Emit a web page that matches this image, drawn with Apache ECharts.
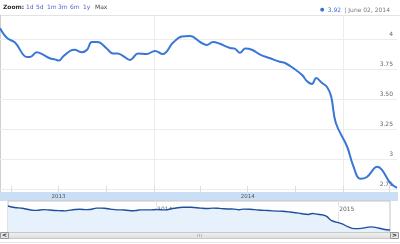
<!DOCTYPE html>
<html>
<head>
<meta charset="utf-8">
<script src="https://cdn.jsdelivr.net/npm/echarts@6/dist/echarts.min.js"></script>
<style>
html,body{margin:0;padding:0;background:#fff}
#chart{width:400px;height:244px}
</style>
</head>
<body>
<div id="chart"></div>
<script>
// dates / rates
var dates = ['2013-03-10','2013-03-23','2013-04-08','2013-05-01','2013-05-07','2013-05-20','2013-06-01',
	'2013-06-14','2013-06-24','2013-07-02','2013-07-09','2013-07-23','2013-08-01','2013-08-15','2013-08-25',
	'2013-09-03','2013-09-13','2013-09-19','2013-10-02','2013-10-14','2013-10-23','2013-11-02','2013-11-16',
	'2013-11-21','2013-12-01','2013-12-18','2014-01-03','2014-01-18','2014-02-07','2014-02-24','2014-03-12',
	'2014-03-31','2014-04-13','2014-04-25','2014-05-08','2014-05-28','2014-06-06','2014-06-16','2014-06-26',
	'2014-07-09','2014-07-25','2014-08-13','2014-09-01','2014-09-11','2014-09-26','2014-10-14','2014-10-23',
	'2014-11-02','2014-11-10','2014-11-21','2014-12-01','2014-12-09','2014-12-18','2015-01-09','2015-01-20',
	'2015-02-03','2015-02-16','2015-03-08','2015-03-17','2015-04-02','2015-04-15'];
var rates = [4.09,4.01,3.97,3.85,3.85,3.89,3.87,
	3.84,3.83,3.82,3.85,3.90,3.91,3.89,3.91,
	3.975,3.975,3.97,3.92,3.88,3.88,3.86,3.825,
	3.84,3.88,3.875,3.90,3.875,3.97,4.02,4.025,
	3.975,3.95,3.975,3.96,3.925,3.92,3.885,3.92,
	3.91,3.87,3.84,3.81,3.80,3.76,3.70,3.65,
	3.625,3.675,3.635,3.60,3.52,3.30,3.10,2.95,
	2.835,2.85,2.935,2.91,2.80,2.76];

var yTicks = [2.75, 3, 3.25, 3.5, 3.75, 4];
var yTickLabels = ['2.75', '3', '3.25', '3.50', '3.75', '4'];
var yearStarts = ['2014-01-01', '2015-01-01'];
var bandLabelDates = ['2013-07-01', '2014-07-01'];
var bandTickDates = ['2013-04-01', '2013-07-01', '2013-10-01', '2014-01-01', '2014-04-01', '2014-07-01', '2014-10-01', '2015-01-01', '2015-04-01'];
var zoomButtons = ['1d', '5d', '1m', '3m', '6m', '1y'];
var lastValue = '3.92';
var lastDate = 'June 02, 2014';

var font = 'DejaVu Sans';
var buttonX = [26, 36, 47, 58, 70, 83];
function ts(d) { return Date.parse(d + 'T00:00:00Z'); }
function yearOf(v) { return String(new Date(v).getUTCFullYear()); }
var seriesData = dates.map(function (d, i) { return [ts(d), rates[i]]; });
var xMin = ts(dates[0]), xMax = ts(dates[dates.length - 1]);

var graphics = [
	{ type: 'line', shape: { x1: 0, y1: 15.5, x2: 400, y2: 15.5 }, style: { stroke: '#e3e3e3', lineWidth: 1 } },
	{ type: 'line', shape: { x1: 0.5, y1: 15, x2: 0.5, y2: 192 }, style: { stroke: '#cfcfcf', lineWidth: 1 } },
	{ type: 'rect', z: -5, shape: { x: 0, y: 192, width: 398, height: 9 }, style: { fill: '#cadff5' } },
	{ type: 'text', left: 3, top: 4, style: { text: 'Zoom:', font: 'bold 6px "' + font + '"', fill: '#333' } },
	{ type: 'text', left: 95, top: 4, style: { text: 'Max', font: '6px "' + font + '"', fill: '#444' } },
	{ type: 'text', right: 10, top: 4, style: {
		text: '{d|●} {v|' + lastValue + '} {g|| ' + lastDate + '}',
		rich: {
			d: { font: '5px "' + font + '"', fill: '#3a6fd8' },
			v: { font: '6px "' + font + '"', fill: '#3a6fd8' },
			g: { font: '6px "' + font + '"', fill: '#777' }
		}
	} },
	// scrollbar
	{ type: 'rect', shape: { x: 8.5, y: 232.5, width: 382, height: 6 }, style: {
		fill: new echarts.graphic.LinearGradient(0, 0, 0, 1, [{ offset: 0, color: '#f2f2f2' }, { offset: 1, color: '#dcdcdc' }]),
		stroke: '#c8c8c8' } },
	{ type: 'rect', shape: { x: 0.5, y: 232.5, width: 8, height: 6 }, style: { fill: '#e6e6e6', stroke: '#999999' } },
	{ type: 'rect', shape: { x: 390.5, y: 232.5, width: 8, height: 6 }, style: { fill: '#e6e6e6', stroke: '#999999' } },
	{ type: 'text', left: 2, top: 232, style: { text: '<', font: 'bold 6px "' + font + '"', fill: '#222' } },
	{ type: 'text', left: 392, top: 232, style: { text: '>', font: 'bold 6px "' + font + '"', fill: '#222' } },
	{ type: 'line', shape: { x1: 197.5, y1: 234, x2: 197.5, y2: 237 }, style: { stroke: '#bbb' } },
	{ type: 'line', shape: { x1: 199.5, y1: 234, x2: 199.5, y2: 237 }, style: { stroke: '#bbb' } },
	{ type: 'line', shape: { x1: 201.5, y1: 234, x2: 201.5, y2: 237 }, style: { stroke: '#bbb' } },
	{ type: 'line', shape: { x1: 0, y1: 242.5, x2: 400, y2: 242.5 }, style: { stroke: '#e4e4e4' } }
];
zoomButtons.forEach(function (b, i) {
	graphics.push({ type: 'text', left: buttonX[i], top: 4, style: { text: b, font: '6px "' + font + '"', fill: '#5266c8' } });
});

var option = {
	backgroundColor: '#fff',
	animation: false,
	graphic: graphics,
	grid: [
		{ left: 0, right: 3, top: 15, bottom: 52, containLabel: false, outerBoundsMode: 'none' },
		{ left: 8, right: 10, top: 201, height: 31, containLabel: false, outerBoundsMode: 'none',
			show: true, borderColor: '#c4c4c4', borderWidth: 1, backgroundColor: 'transparent' }
	],
	xAxis: [
		{
			type: 'value', gridIndex: 0, min: xMin, max: xMax,
			axisLine: { show: false },
			axisTick: { show: false, customValues: yearStarts.map(ts) },
			axisLabel: { show: false },
			splitLine: { show: true, lineStyle: { color: '#ececec', width: 1 } }
		},
		{
			type: 'value', gridIndex: 0, min: xMin, max: xMax, position: 'bottom',
			axisLine: { show: false },
			axisTick: { show: true, inside: true, length: 6, customValues: bandTickDates.map(ts), lineStyle: { color: '#dddddd' } },
			axisLabel: {
				show: true, customValues: bandLabelDates.map(ts), margin: 2, color: '#555',
				fontFamily: font, fontSize: 5.5, formatter: yearOf
			},
			splitLine: { show: false }
		},
		{
			type: 'value', gridIndex: 1, min: xMin, max: xMax, position: 'top',
			axisLine: { show: false },
			axisTick: { show: false, customValues: yearStarts.map(ts) },
			axisLabel: {
				show: true, inside: true, customValues: yearStarts.map(ts), margin: 5, align: 'left',
				padding: [0, 1, 0, 1], backgroundColor: '#fff',
				color: '#666', fontFamily: font, fontSize: 6, formatter: yearOf
			},
			splitLine: { show: true, lineStyle: { color: '#e2e2e2' } }
		}
	],
	yAxis: [
		{
			type: 'value', gridIndex: 0, position: 'right', min: 2.725, max: 4.2,
			axisLine: { show: false },
			axisTick: { show: false, customValues: yTicks },
			axisLabel: {
				inside: true, customValues: yTicks, margin: 4, color: '#666', fontFamily: font, fontSize: 6,
				verticalAlign: 'bottom', lineHeight: 9,
				formatter: function (v) { return yTickLabels[yTicks.indexOf(v)]; }
			},
			splitLine: { show: true, lineStyle: { color: '#ececec' } }
		},
		{ type: 'value', gridIndex: 1, min: 2.65, max: 4.37, show: false }
	],
	series: [
		{
			type: 'line', xAxisIndex: 0, yAxisIndex: 0, data: seriesData, smooth: 0.4, symbol: 'none',
			lineStyle: { color: '#3a76d6', width: 2 }, z: 5
		},
		{
			type: 'line', xAxisIndex: 2, yAxisIndex: 1, data: seriesData, smooth: 0.4, symbol: 'none',
			lineStyle: { color: '#1f4f9f', width: 1.4 },
			areaStyle: { color: '#e6f1fc', opacity: 1 }
		}
	]
};

var chart = echarts.init(document.getElementById('chart'));
chart.setOption(option);
</script>
</body>
</html>
